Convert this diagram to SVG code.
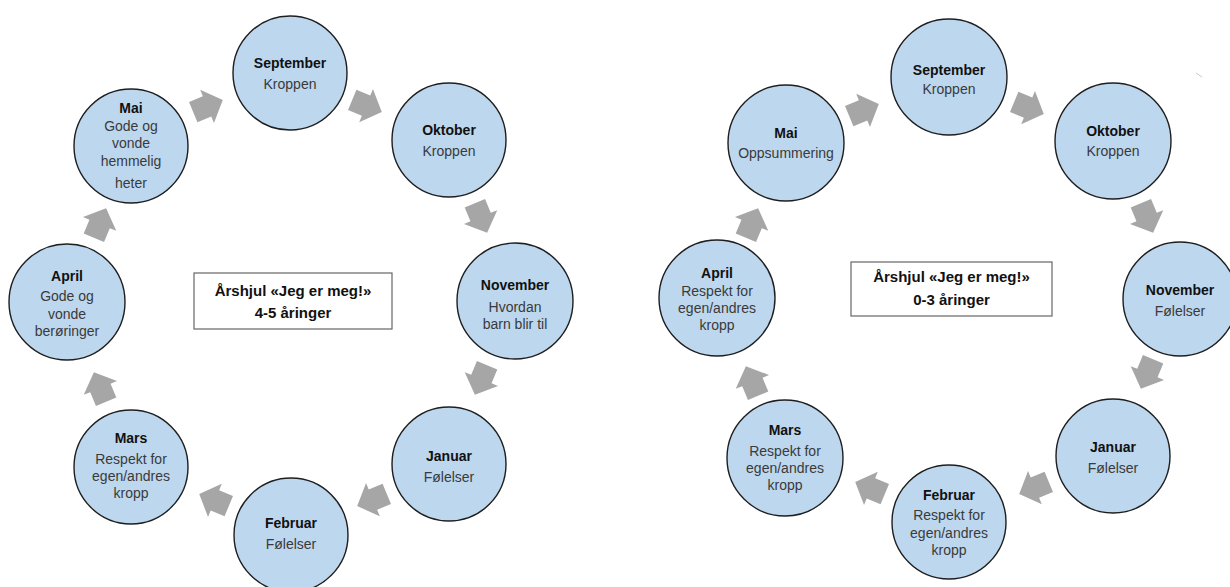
<svg xmlns="http://www.w3.org/2000/svg" xmlns:xlink="http://www.w3.org/1999/xlink" width="1230" height="587" viewBox="0 0 1230 587">
<style>
.node circle{fill:#BDD7EE;stroke:#1e1e1e;stroke-width:1.4}
.t{font-family:"Liberation Sans",Arial,sans-serif;font-size:14px;text-anchor:middle;fill:#3a3a3a}
.b{font-weight:bold;fill:#111}
.box rect{fill:#fff;stroke:#666;stroke-width:1.2}
.bt{font-family:"Liberation Sans",Arial,sans-serif;font-size:15px;font-weight:bold;text-anchor:middle;fill:#111}
.arr{fill:#A6A6A6}
</style>
<defs>
<polygon id="arr" points="-16,-11 -1,-11 -1,-18 16,0 -1,18 -1,11 -16,11"/>
</defs>
<rect width="1230" height="587" fill="#fff"/>

<g id="connectors">
<use xlink:href="#arr" class="arr" transform="translate(208,106) rotate(-22.5)"/>
<use xlink:href="#arr" class="arr" transform="translate(367,106) rotate(22.5)"/>
<use xlink:href="#arr" class="arr" transform="translate(481,218) rotate(67.5)"/>
<use xlink:href="#arr" class="arr" transform="translate(481,380) rotate(112.5)"/>
<use xlink:href="#arr" class="arr" transform="translate(372,500) rotate(157.5)"/>
<use xlink:href="#arr" class="arr" transform="translate(214,500) rotate(202.5)"/>
<use xlink:href="#arr" class="arr" transform="translate(100,387) rotate(247.5)"/>
<use xlink:href="#arr" class="arr" transform="translate(100,223) rotate(292.5)"/>

<use xlink:href="#arr" class="arr" transform="translate(864,110) rotate(-22.5)"/>
<use xlink:href="#arr" class="arr" transform="translate(1029,108) rotate(22.5)"/>
<use xlink:href="#arr" class="arr" transform="translate(1147,218) rotate(67.5)"/>
<use xlink:href="#arr" class="arr" transform="translate(1147,374) rotate(112.5)"/>
<use xlink:href="#arr" class="arr" transform="translate(1034,488) rotate(157.5)"/>
<use xlink:href="#arr" class="arr" transform="translate(870,488) rotate(202.5)"/>
<use xlink:href="#arr" class="arr" transform="translate(752,381) rotate(247.5)"/>
<use xlink:href="#arr" class="arr" transform="translate(752,223) rotate(292.5)"/>
</g>

<!-- Left wheel -->
<g id="l-sep" class="node"><circle cx="290" cy="73" r="57"/>
<text class="t b" x="290" y="68">September</text><text class="t" x="290" y="89">Kroppen</text></g>
<g id="l-okt" class="node"><circle cx="449" cy="140" r="57"/>
<text class="t b" x="449" y="135">Oktober</text><text class="t" x="449" y="156">Kroppen</text></g>
<g id="l-nov" class="node"><circle cx="515" cy="301" r="58"/>
<text class="t b" x="515" y="290">November</text><text class="t" x="515" y="312">Hvordan</text><text class="t" x="515" y="329">barn blir til</text></g>
<g id="l-jan" class="node"><circle cx="449" cy="464" r="57"/>
<text class="t b" x="449" y="461">Januar</text><text class="t" x="449" y="482">Følelser</text></g>
<g id="l-feb" class="node"><circle cx="291" cy="535" r="57"/>
<text class="t b" x="291" y="528">Februar</text><text class="t" x="291" y="549">Følelser</text></g>
<g id="l-mar" class="node"><circle cx="131" cy="467" r="57"/>
<text class="t b" x="131" y="443">Mars</text><text class="t" x="131" y="464">Respekt for</text><text class="t" x="131" y="481">egen/andres</text><text class="t" x="131" y="498">kropp</text></g>
<g id="l-apr" class="node"><circle cx="67" cy="302" r="58"/>
<text class="t b" x="67" y="281">April</text><text class="t" x="67" y="301">Gode og</text><text class="t" x="67" y="319">vonde</text><text class="t" x="67" y="336">berøringer</text></g>
<g id="l-mai" class="node"><circle cx="131" cy="146" r="57"/>
<text class="t b" x="131" y="113">Mai</text><text class="t" x="131" y="131">Gode og</text><text class="t" x="131" y="148">vonde</text><text class="t" x="131" y="166">hemmelig</text><text class="t" x="131" y="188">heter</text></g>
<g id="l-title" class="box"><rect x="194" y="273" width="198" height="56"/>
<text class="bt" x="293" y="296">Årshjul «Jeg er meg!»</text><text class="bt" x="293" y="318">4-5 åringer</text></g>

<!-- Right wheel -->
<g id="r-sep" class="node"><circle cx="949" cy="77" r="58"/>
<text class="t b" x="949" y="75">September</text><text class="t" x="949" y="94">Kroppen</text></g>
<g id="r-okt" class="node"><circle cx="1113" cy="141" r="58"/>
<text class="t b" x="1113" y="136">Oktober</text><text class="t" x="1113" y="156">Kroppen</text></g>
<g id="r-nov" class="node"><circle cx="1180" cy="299" r="57"/>
<text class="t b" x="1180" y="295">November</text><text class="t" x="1180" y="316">Følelser</text></g>
<g id="r-jan" class="node"><circle cx="1113" cy="456" r="57"/>
<text class="t b" x="1113" y="452">Januar</text><text class="t" x="1113" y="473">Følelser</text></g>
<g id="r-feb" class="node"><circle cx="949" cy="522" r="57"/>
<text class="t b" x="949" y="500">Februar</text><text class="t" x="949" y="520">Respekt for</text><text class="t" x="949" y="538">egen/andres</text><text class="t" x="949" y="555">kropp</text></g>
<g id="r-mar" class="node"><circle cx="785" cy="458" r="58"/>
<text class="t b" x="785" y="435">Mars</text><text class="t" x="785" y="456">Respekt for</text><text class="t" x="785" y="473">egen/andres</text><text class="t" x="785" y="490">kropp</text></g>
<g id="r-apr" class="node"><circle cx="717" cy="298" r="58"/>
<text class="t b" x="717" y="278">April</text><text class="t" x="717" y="296">Respekt for</text><text class="t" x="717" y="313">egen/andres</text><text class="t" x="717" y="330">kropp</text></g>
<g id="r-mai" class="node"><circle cx="786" cy="143" r="58"/>
<text class="t b" x="786" y="138">Mai</text><text class="t" x="786" y="158">Oppsummering</text></g>
<g id="r-title" class="box"><rect x="851" y="262" width="201" height="54"/>
<text class="bt" x="951.5" y="282">Årshjul «Jeg er meg!»</text><text class="bt" x="951.5" y="305">0-3 åringer</text></g>

<line x1="1196" y1="73" x2="1202" y2="77" stroke="#c8c8c8" stroke-width="1"/>
</svg>
